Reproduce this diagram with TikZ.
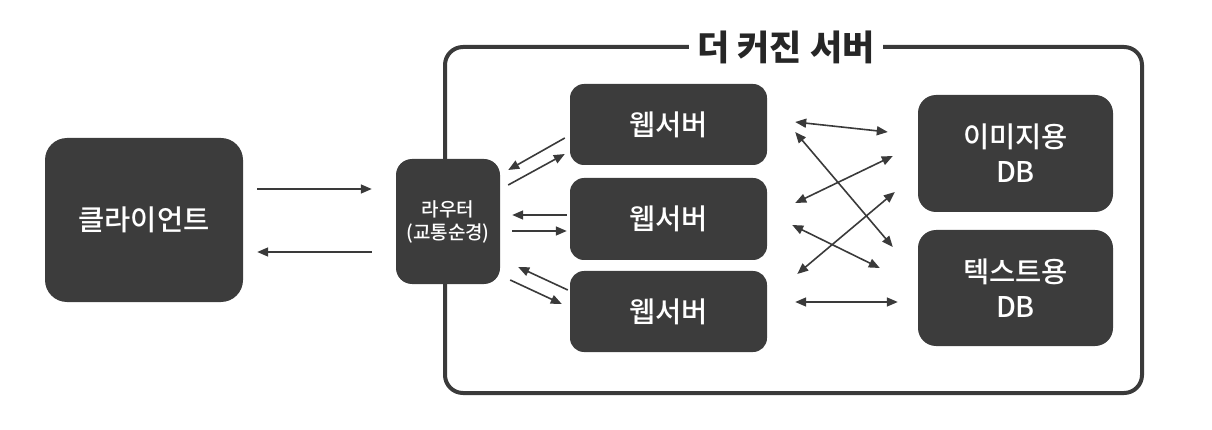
\documentclass[tikz,border=0pt]{standalone}
\usepackage{fontspec}
\setmainfont{Noto Sans CJK KR}[BoldFont={Noto Sans CJK KR Medium}]
\newfontfamily\krbold{Noto Sans CJK KR}
\usetikzlibrary{arrows.meta,calc}
\definecolor{boxc}{HTML}{3C3C3C}
\definecolor{linec}{HTML}{3A3A3A}
\begin{document}
\begin{tikzpicture}[x=1pt,y=-1pt,
  dbox/.style={fill=boxc, rounded corners=18pt, text=white, font=\bfseries\fontsize{28.5}{35}\selectfont, align=center, inner sep=0pt},
  arr/.style={draw=linec, line width=1.6pt, -{Triangle[length=11pt,width=9pt]}},
  darr/.style={draw=linec, line width=1.6pt, {Triangle[length=11pt,width=9pt]}-{Triangle[length=11pt,width=9pt]}}]
\useasboundingbox (0,0) rectangle (1212,430);
% big server frame
\node[draw=linec, line width=4pt, rounded corners=18pt, minimum width=697pt, minimum height=346pt, inner sep=0pt] (server) at (793.5,220) {};
\node[fill=white, inner xsep=8pt, inner ysep=2pt, text=black!85, font=\krbold\bfseries\fontsize{35}{40}\selectfont] (title) at (786,47) {더 커진 서버};
% nodes
\node[dbox, minimum width=198pt, minimum height=164pt, rounded corners=22pt] (client) at (144,220) {클라이언트};
\node[dbox, minimum width=104pt, minimum height=125pt, rounded corners=16pt, font=\bfseries\fontsize{19}{23}\selectfont] (router) at (448,221.5) {라우터\\(교통순경)};
\node[dbox, minimum width=197pt, minimum height=81pt, rounded corners=14pt] (web1) at (668.5,124.5) {웹서버};
\node[dbox, minimum width=197pt, minimum height=82pt, rounded corners=14pt] (web2) at (668.5,219) {웹서버};
\node[dbox, minimum width=197pt, minimum height=81pt, rounded corners=14pt] (web3) at (668.5,311.5) {웹서버};
\node[dbox, minimum width=195pt, minimum height=117pt] (db1) at (1015.5,153.5) {이미지용\\DB};
\node[dbox, minimum width=195pt, minimum height=116pt] (db2) at (1015.5,288) {텍스트용\\DB};
% client <-> router
\draw[arr] ($(client.east)+(14,-31)$) -- ($(router.west)+(-24,-32.5)$);
\draw[arr] ($(router.west)+(-24,30.5)$) -- ($(client.east)+(14,32)$);
% router <-> web servers
\draw[arr] ($(web1.west)+(-5,13.5)$) -- ($(router.east)+(8,-51.5)$);
\draw[arr] ($(router.east)+(8,-36.5)$) -- ($(web1.west)+(-5,29.5)$);
\draw[arr] ($(web2.west)+(-3,-4)$) -- ($(router.east)+(12,-6.5)$);
\draw[arr] ($(router.east)+(12,9.5)$) -- ($(web2.west)+(-3,12)$);
\draw[arr] ($(web3.west)+(-2,-21.5)$) -- ($(router.east)+(18,45.5)$);
\draw[arr] ($(router.east)+(10,58.5)$) -- ($(web3.west)+(-8,-7.5)$);
% web servers <-> DBs
\draw[darr] ($(web1.east)+(28,-2.5)$) -- ($(db1.west)+(-30,-21.5)$);
\draw[darr] ($(web1.east)+(28,7.5)$) -- ($(db2.west)+(-25,-41)$);
\draw[darr] ($(web2.east)+(28,-16)$) -- ($(db1.west)+(-25,2.5)$);
\draw[darr] ($(web2.east)+(25,6)$) -- ($(db2.west)+(-38,-20)$);
\draw[darr] ($(web3.east)+(30,-37.5)$) -- ($(db1.west)+(-23,38.5)$);
\draw[darr] ($(web3.east)+(28,-9.5)$) -- ($(db2.west)+(-20,14)$);
\end{tikzpicture}
\end{document}
